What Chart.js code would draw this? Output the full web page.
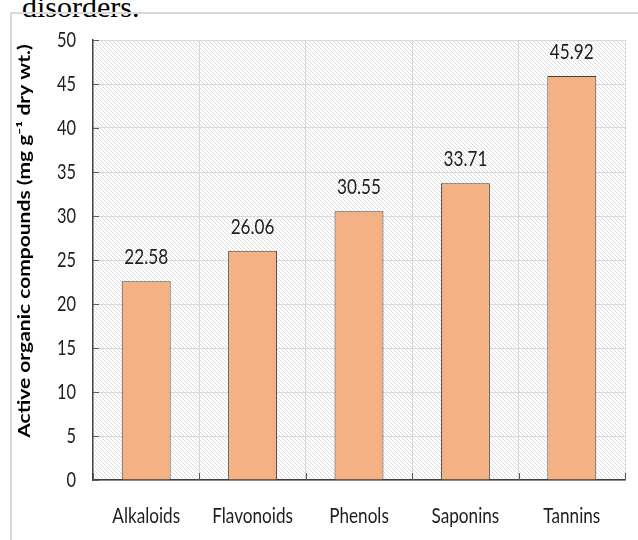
<!DOCTYPE html>
<html>
<head>
<meta charset="utf-8">
<script src="https://cdn.jsdelivr.net/npm/chart.js@4"></script>
<style>
    body { margin: 0; background: #fff; width: 638px; height: 540px; overflow: hidden; position: relative; }
    #caption { position: absolute; left: 22px; top: -10px; font-family: "Liberation Serif", serif; font-size: 30px; color: #000; }
    #frame { position: absolute; left: 10px; top: 12px; width: 640px; height: 540px; border: 2px solid #d9d9d9; box-sizing: border-box; }
    #chart { position: absolute; left: 0; top: 0; }
</style>
</head>
<body>
<div id="caption">disorders.</div>
<div id="frame"></div>
<canvas id="chart" width="638" height="540"></canvas>
<script>
// Chart data
const categories = ["Alkaloids", "Flavonoids", "Phenols", "Saponins", "Tannins"];
const values = [22.58, 26.06, 30.55, 33.71, 45.92];
const yTicks = [0, 5, 10, 15, 20, 25, 30, 35, 40, 45, 50];
const yTitle = 'Active organic compounds (mg g\u207B\u00B9 dry wt.)';

// the source picture is squeezed sideways, so text is drawn narrowed
const squeeze = 0.78;
const textColor = '#1e1e1e';

function drawNarrow(ctx, text, x, y, font, align) {
    ctx.save();
    ctx.font = font;
    ctx.textAlign = align;
    ctx.translate(x, y);
    ctx.scale(squeeze, 1);
    ctx.fillText(text, 0, 0);
    ctx.restore();
}

// Diagonal hatch for the plot background
function makeHatch(ctx) {
    const c = document.createElement('canvas');
    c.width = 4;
    c.height = 4;
    const p = c.getContext('2d');
    p.fillStyle = '#ffffff';
    p.fillRect(0, 0, 4, 4);
    p.strokeStyle = '#dcdcdc';
    p.lineWidth = 1;
    p.beginPath();
    p.moveTo(0, 0); p.lineTo(4, 4);
    p.moveTo(-1, 3); p.lineTo(1, 5);
    p.moveTo(3, -1); p.lineTo(5, 1);
    p.stroke();
    return ctx.createPattern(c, 'repeat');
}

const hatchPlugin = {
    id: 'hatch',
    beforeDraw(chart) {
        const { ctx, chartArea } = chart;
        ctx.save();
        ctx.fillStyle = makeHatch(ctx);
        ctx.fillRect(chartArea.left, chartArea.top, chartArea.right - chartArea.left, chartArea.bottom - chartArea.top);
        ctx.restore();
    }
};

// Inward tick marks, Excel style
const axisPlugin = {
    id: 'axisMarks',
    afterDatasetsDraw(chart) {
        const { ctx, chartArea, scales } = chart;
        ctx.save();
        ctx.strokeStyle = '#595959';
        ctx.lineWidth = 1;
        ctx.beginPath();
        yTicks.forEach(v => {
            const y = Math.round(scales.y.getPixelForValue(v)) + 0.5;
            ctx.moveTo(chartArea.left, y);
            ctx.lineTo(chartArea.left + 6, y);
        });
        for (let i = 0; i <= categories.length; i++) {
            const x = Math.round(scales.x.getPixelForValue(i - 0.5)) + 0.5;
            ctx.moveTo(x, chartArea.bottom);
            ctx.lineTo(x, chartArea.bottom - 7);
        }
        ctx.stroke();
        ctx.restore();
    }
};

// Tick labels, axis title and value labels
const textPlugin = {
    id: 'texts',
    afterDraw(chart) {
        const { ctx, chartArea, scales } = chart;
        ctx.save();
        ctx.fillStyle = textColor;
        ctx.textBaseline = 'middle';
        yTicks.forEach(v => {
            drawNarrow(ctx, String(v), chartArea.left - 17, scales.y.getPixelForValue(v), '21px Lato', 'right');
        });
        ctx.textBaseline = 'alphabetic';
        categories.forEach((c, i) => {
            drawNarrow(ctx, c, scales.x.getPixelForValue(i), chartArea.bottom + 43, '22px Lato', 'center');
        });
        const meta = chart.getDatasetMeta(0);
        meta.data.forEach((bar, i) => {
            drawNarrow(ctx, values[i].toFixed(2), bar.x, bar.y - 17, '22px Lato', 'center');
        });
        // rotated y title
        ctx.fillStyle = '#000';
        ctx.translate(25, 241);
        ctx.rotate(-Math.PI / 2);
        ctx.scale(1, squeeze);
        ctx.font = 'bold 21px Lato';
        ctx.textAlign = 'center';
        ctx.textBaseline = 'middle';
        ctx.fillText(yTitle, 0, 0);
        ctx.restore();
    }
};

new Chart(document.getElementById('chart').getContext('2d'), {
    type: 'bar',
    data: {
        labels: categories,
        datasets: [{
            data: values,
            backgroundColor: '#f4b183',
            borderColor: '#404040',
            borderWidth: 1,
            barPercentage: 0.46,
            categoryPercentage: 1
        }]
    },
    options: {
        responsive: false,
        animation: false,
        layout: { padding: { top: 40, right: 13, left: 0, bottom: 0 } },
        plugins: {
            legend: { display: false },
            tooltip: { enabled: false }
        },
        scales: {
            x: {
                grid: { color: '#d9d9d9', drawTicks: false, offset: true },
                border: { color: '#404040', width: 1.5 },
                ticks: { display: false },
                afterFit: s => { s.height = 60; }
            },
            y: {
                min: 0,
                max: 50,
                grid: { color: '#d9d9d9', drawTicks: false },
                border: { color: '#404040', width: 1.5 },
                ticks: { display: false, stepSize: 5 },
                afterFit: s => { s.width = 93; }
            }
        }
    },
    plugins: [hatchPlugin, axisPlugin, textPlugin]
});
</script>
</body>
</html>
